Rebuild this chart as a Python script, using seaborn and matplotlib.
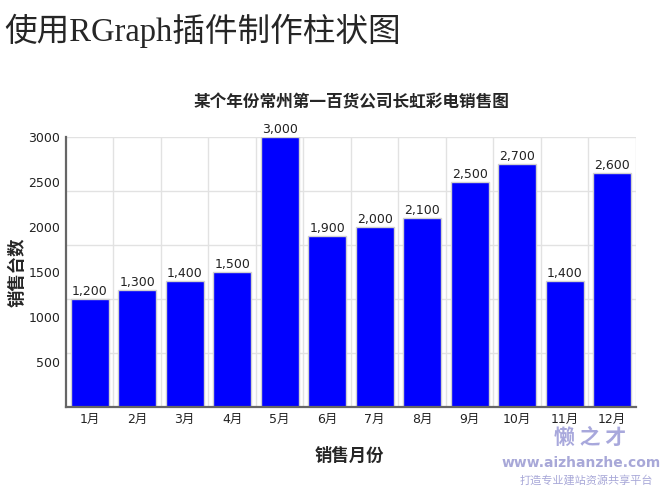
import numpy as np
import pandas as pd
import matplotlib
matplotlib.use('Agg')
import matplotlib.pyplot as plt
import seaborn as sns

# chart data
months = ['1月', '2月', '3月', '4月', '5月', '6月', '7月', '8月', '9月', '10月', '11月', '12月']
sales = [1200, 1300, 1400, 1500, 3000, 1900, 2000, 2100, 2500, 2700, 1400, 2600]
ytick_values = [500, 1000, 1500, 2000, 2500, 3000]
grid_values = [600, 1200, 1800, 2400, 3000]

sns.set_style('white')
plt.rcParams['font.family'] = ['DejaVu Sans', 'Noto Sans CJK SC']

df = pd.DataFrame({'month': months, 'sales': sales})

fig = plt.figure(figsize=(6.7, 4.9), dpi=100)
ax = fig.add_axes([0.0985, 0.1694, 0.8505, 0.551])

# background grid
ax.hlines(grid_values, -0.5, len(months) - 0.5, color='#e2e2e2', lw=1, zorder=0)
ax.vlines(np.arange(len(months)) + 0.5, 0, 3000, color='#e2e2e2', lw=1, zorder=0)

sns.barplot(data=df, x='month', y='sales', color='#0000ff', saturation=1,
            edgecolor='#d0d0d0', linewidth=1, width=0.8, ax=ax, zorder=2)

ax.bar_label(ax.containers[0], labels=[f'{v:,}' for v in sales],
             fontsize=9, color='#222222', padding=1)

ax.set_xlim(-0.5, len(months) - 0.5)
ax.set_ylim(0, 3000)
ax.set_yticks(ytick_values)
ax.set_yticks(np.arange(300, 3001, 300), minor=True)
ax.set_xticks(np.arange(len(months)) - 0.5, minor=True)
ax.tick_params(axis='both', which='major', length=0, labelsize=9, colors='#222222', pad=4)
ax.tick_params(axis='both', which='minor', length=3, color='#666666', width=1)

for side in ['top', 'right']:
    ax.spines[side].set_visible(False)
for side in ['left', 'bottom']:
    ax.spines[side].set_color('#666666')
    ax.spines[side].set_linewidth(1.6)

ax.set_xlabel('')
ax.set_ylabel('')

fig.text(0.525, 0.79, '某个年份常州第一百货公司长虹彩电销售图', ha='center', va='center',
         fontsize=12, fontweight='bold', family=['Noto Sans CJK SC'])
fig.text(0.027, 0.445, '销售台数', ha='center', va='center', rotation=90,
         fontsize=12.5, fontweight='bold', family=['Noto Sans CJK SC'])
fig.text(0.522, 0.069, '销售月份', ha='center', va='center',
         fontsize=12.5, fontweight='bold', family=['Noto Sans CJK SC'])

fig.text(0.006, 0.938, '使用RGraph插件制作柱状图', ha='left', va='center',
         fontsize=23.5, fontweight='medium', family=['Liberation Serif', 'Noto Sans CJK SC'])

# site watermark
fig.text(0.88, 0.108, '懒 之 才', ha='center', va='center', fontsize=15,
         fontweight='bold', color='#a8a8dc', family=['Noto Sans CJK SC'])
fig.text(0.868, 0.055, 'www.aizhanzhe.com', ha='center', va='center', fontsize=10,
         fontweight='bold', color='#a8a8d8')
fig.text(0.875, 0.02, '打造专业建站资源共享平台', ha='center', va='center', fontsize=8,
         color='#a8a8d8', family=['Noto Sans CJK SC'])

fig.savefig('out.png', dpi=100)
